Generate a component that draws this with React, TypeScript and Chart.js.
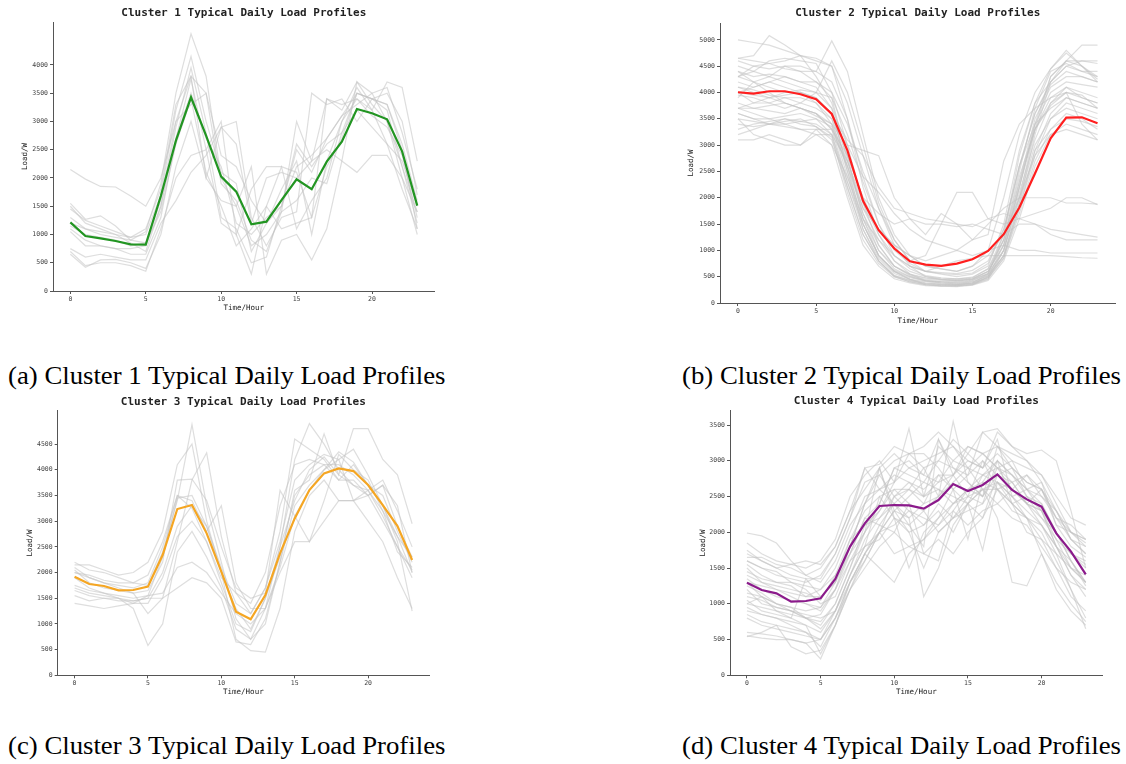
import React, { useEffect, useRef } from "react";
import { Chart, registerables } from "chart.js";

Chart.register(...registerables);

// ---------- DATA ----------
const hours = [0, 1, 2, 3, 4, 5, 6, 7, 8, 9, 10, 11, 12, 13, 14, 15, 16, 17, 18, 19, 20, 21, 22, 23];
const xTickValues = [0, 5, 10, 15, 20];

const cluster1Typical = [1215, 973, 932, 885, 826, 820, 1680, 2660, 3428, 2750, 2024, 1758, 1180, 1227, 1610, 1976, 1800, 2289, 2643, 3221, 3145, 3038, 2466, 1510];
const cluster1Members = [
  [2150, 1980, 1850, 1840, 1680, 1500, 2000, 3000, 3800, 3500, 2400, 2200, 1600, 1200, 1500, 2200, 2400, 2700, 3100, 3500, 3400, 3300, 2600, 1600],
  [1550, 1270, 1330, 1150, 900, 1050, 1900, 3500, 4550, 3800, 2000, 1500, 800, 1000, 1400, 3000, 2300, 3400, 3200, 3700, 3500, 3000, 2200, 1200],
  [1450, 1250, 1150, 1050, 950, 1000, 1700, 3200, 4150, 3000, 2100, 1900, 700, 1200, 1800, 2300, 1000, 2300, 3000, 3600, 3200, 2600, 1800, 1100],
  [1100, 900, 800, 750, 750, 800, 1500, 2900, 3950, 2800, 1300, 1100, 500, 600, 1500, 2600, 2200, 2600, 2800, 3500, 3400, 3500, 3000, 1700],
  [1050, 800, 800, 750, 650, 650, 1300, 2700, 3750, 2500, 1200, 1000, 300, 1500, 2200, 1100, 1600, 2000, 3000, 3400, 3200, 3700, 3600, 2300],
  [750, 600, 650, 600, 550, 550, 1200, 1600, 2100, 2400, 2900, 3000, 1300, 800, 1300, 1400, 3500, 3300, 3400, 3000, 3400, 3200, 2200, 1400],
  [700, 450, 500, 500, 450, 350, 1100, 2000, 2400, 2500, 3000, 1000, 1800, 2200, 2200, 2100, 1300, 2200, 2700, 3500, 3400, 3300, 2500, 1100],
  [650, 420, 550, 560, 500, 400, 1000, 2200, 3000, 2000, 1600, 1500, 2200, 300, 900, 1000, 550, 1100, 2300, 2100, 2400, 2400, 2000, 1000],
  [1200, 1100, 1000, 950, 900, 850, 1400, 2600, 3400, 2100, 1500, 800, 1100, 1500, 1100, 1200, 1300, 3400, 3300, 3400, 3100, 2900, 2400, 1300],
  [1500, 1200, 1100, 1000, 950, 1100, 1800, 3300, 3800, 2000, 2900, 2600, 1200, 2000, 2100, 2000, 2300, 2500, 2300, 3700, 3300, 3000, 2000, 1400],
  [1150, 1000, 950, 900, 800, 850, 1600, 3000, 3300, 3500, 1900, 1600, 900, 700, 1400, 1600, 2000, 1900, 2800, 3200, 2900, 2600, 2300, 1500],
  [1300, 1100, 1050, 1000, 850, 700, 1500, 2700, 3500, 2700, 2200, 1200, 1000, 1300, 1500, 2500, 2100, 2700, 3100, 3300, 3500, 3600, 2800, 1800],
];

const cluster2Typical = [4004, 3978, 4023, 4023, 3966, 3870, 3591, 2900, 1942, 1383, 1034, 793, 730, 704, 749, 831, 990, 1307, 1815, 2462, 3128, 3522, 3528, 3414];
const cluster2Members = [
  [5000, 4950, 4900, 4800, 4700, 4600, 4500, 3800, 2800, 1800, 1100, 700, 500, 450, 420, 450, 600, 1100, 2200, 3400, 4300, 4600, 4900, 4900],
  [4650, 4700, 5080, 4900, 4700, 4300, 3800, 2800, 1600, 900, 600, 450, 350, 320, 330, 350, 500, 1000, 2000, 3300, 4300, 4600, 4500, 4300],
  [4600, 4500, 4550, 4600, 4700, 4650, 4500, 3500, 2200, 1300, 800, 550, 420, 380, 360, 380, 550, 1300, 2800, 3800, 4450, 4800, 4500, 4250],
  [4400, 4200, 4300, 4500, 4400, 4200, 3900, 2700, 1700, 1000, 650, 500, 420, 400, 380, 400, 520, 900, 1900, 3200, 4200, 4500, 4600, 4600],
  [4300, 4400, 4600, 4650, 4600, 4550, 4000, 3000, 1900, 1100, 700, 520, 450, 430, 420, 450, 560, 1200, 2500, 3700, 4400, 4550, 4400, 4400],
  [4200, 4100, 4200, 4300, 4200, 4100, 3700, 2500, 1400, 800, 500, 400, 350, 330, 320, 350, 450, 1000, 2200, 3400, 4000, 4200, 4150, 4100],
  [4100, 4000, 3900, 3950, 4000, 3900, 3600, 2600, 1500, 900, 600, 450, 380, 360, 350, 380, 500, 1100, 2300, 3500, 4100, 4300, 4300, 4200],
  [4000, 3800, 3800, 3900, 3800, 3700, 3500, 2500, 1600, 1000, 700, 550, 480, 450, 430, 460, 600, 1200, 2400, 3300, 3900, 4100, 4000, 3900],
  [3900, 4200, 4000, 3800, 3700, 3600, 3400, 2400, 1500, 900, 600, 480, 420, 400, 390, 420, 550, 1000, 2100, 3100, 3800, 4000, 3900, 3800],
  [3800, 3700, 3750, 3800, 3700, 3600, 3300, 2300, 1400, 850, 560, 450, 400, 380, 370, 400, 520, 900, 1900, 2900, 3600, 3900, 3800, 3700],
  [3700, 3600, 3500, 3550, 3600, 3500, 3200, 2200, 1300, 800, 520, 420, 370, 350, 340, 370, 480, 850, 1800, 2800, 3500, 3800, 3700, 3600],
  [3600, 3500, 3500, 3400, 3450, 3400, 3200, 2300, 1500, 900, 620, 500, 430, 400, 400, 430, 560, 1000, 2000, 3000, 3500, 3700, 3600, 3500],
  [3500, 3450, 3400, 3450, 3500, 3350, 3150, 2100, 1200, 750, 500, 400, 350, 340, 330, 360, 460, 850, 1700, 2700, 3300, 3500, 3450, 3350],
  [3400, 3350, 3400, 3350, 3300, 3300, 3000, 2000, 1100, 700, 460, 380, 330, 320, 310, 340, 430, 800, 1600, 2600, 3200, 3400, 3300, 3200],
  [3300, 3400, 3450, 3500, 3400, 3350, 3100, 2200, 1300, 800, 520, 430, 370, 360, 350, 380, 480, 900, 1800, 2900, 3300, 3600, 3500, 3300],
  [3100, 3100, 3200, 3100, 3000, 3300, 3300, 2800, 2000, 1400, 1100, 900, 700, 650, 600, 700, 900, 1300, 2000, 2800, 3200, 3300, 3200, 3100],
  [3500, 3200, 3100, 3000, 3000, 3200, 3200, 2700, 1900, 1300, 900, 700, 600, 580, 560, 620, 800, 1400, 2600, 3400, 3700, 3900, 3800, 3700],
  [4500, 4400, 4300, 4200, 4100, 4000, 3700, 3000, 2400, 2100, 1700, 1400, 1200, 1100, 1000, 1200, 1500, 1800, 2000, 2000, 2000, 1900, 1900, 1880],
  [4300, 4200, 4100, 4000, 4000, 3900, 3600, 3100, 2800, 2200, 1800, 1700, 1600, 1550, 1500, 1450, 1600, 1700, 1600, 1500, 1400, 1350, 1300, 1250],
  [4000, 4100, 4200, 4100, 4000, 3800, 3500, 2800, 2000, 1700, 1500, 1600, 1500, 1500, 1450, 1500, 1400, 1300, 1500, 1500, 1300, 1200, 1200, 1200],
  [3700, 3800, 3900, 3800, 3700, 3600, 3300, 2600, 1800, 1400, 1100, 900, 800, 900, 1000, 900, 1000, 1100, 1000, 1000, 950, 950, 950, 950],
  [3600, 3500, 3400, 3400, 3300, 3200, 3000, 2400, 1600, 1200, 900, 700, 600, 700, 800, 850, 900, 900, 900, 900, 900, 880, 860, 850],
  [4400, 4300, 4350, 4300, 4200, 4200, 4000, 3400, 2500, 1800, 1200, 800, 900, 1500, 2100, 2100, 1600, 1500, 1600, 1700, 1800, 2000, 2000, 1870],
  [4100, 4050, 3950, 3900, 3900, 3800, 3400, 3000, 2900, 2800, 2000, 1600, 1300, 1700, 1500, 1200, 1300, 2700, 3400, 3700, 3900, 4000, 3400, 3100],
  [3950, 3900, 3800, 3700, 3800, 4000, 4600, 4000, 3000, 1900, 1200, 800, 600, 550, 500, 550, 700, 1500, 2900, 3800, 4200, 4500, 4400, 4300],
  [4650, 4600, 4550, 4450, 4400, 4400, 4980, 4400, 3200, 2000, 1300, 900, 700, 650, 600, 700, 1000, 2000, 3200, 4000, 4450, 4750, 4500, 4200],
  [4300, 4500, 4450, 4500, 4500, 4400, 4200, 3500, 2400, 1500, 900, 650, 520, 480, 460, 480, 650, 1300, 2600, 3600, 4200, 4600, 4600, 4550],
  [3200, 3300, 3400, 3500, 3450, 3500, 3350, 2600, 1700, 1100, 700, 540, 470, 450, 440, 470, 600, 1100, 2200, 3300, 3800, 4100, 3900, 3800],
  [3700, 3700, 3650, 3600, 3700, 3550, 3400, 2700, 1800, 1200, 800, 600, 500, 470, 460, 490, 650, 1200, 2300, 3300, 3750, 4000, 3950, 3700],
  [4000, 3950, 3900, 4000, 4050, 4000, 3900, 3200, 2300, 1500, 1000, 750, 600, 560, 540, 570, 750, 1400, 2600, 3600, 4150, 4400, 4300, 4200],
];

const cluster3Typical = [1920, 1777, 1738, 1654, 1660, 1725, 2341, 3236, 3314, 2763, 2017, 1239, 1089, 1563, 2374, 3054, 3606, 3930, 4027, 3975, 3703, 3314, 2905, 2244];
const cluster3Members = [
  [2200, 2050, 2000, 1900, 1800, 1750, 2400, 3400, 4880, 3300, 2200, 1100, 700, 1300, 2100, 3100, 3600, 4000, 4200, 4400, 3900, 3300, 2700, 2000],
  [2150, 2150, 2050, 1950, 2000, 2200, 2800, 4100, 4500, 3000, 2000, 1300, 900, 1500, 2500, 4200, 4900, 4500, 4000, 3700, 3500, 3700, 2900, 2300],
  [2100, 1900, 1800, 1700, 1600, 1200, 1500, 2600, 3800, 4330, 2700, 1600, 1200, 1700, 2800, 4600, 4400, 4200, 3800, 4100, 3700, 3500, 2800, 2200],
  [2050, 1800, 1700, 1650, 1600, 1650, 2200, 3800, 3820, 3400, 2500, 1700, 1500, 1600, 3600, 3100, 2600, 3400, 4300, 4000, 3800, 3200, 2400, 2100],
  [2000, 1950, 1850, 1800, 1800, 1950, 2600, 3500, 3400, 2800, 3300, 1800, 1300, 1300, 2500, 3400, 4000, 4250, 3900, 3700, 3600, 3800, 3200, 2500],
  [1900, 1700, 1600, 1550, 1500, 1550, 2300, 3450, 3500, 2900, 2000, 700, 480, 450, 1300, 2800, 3500, 3800, 3400, 3400, 3500, 3700, 3300, 2000],
  [1750, 1650, 1600, 1500, 1300, 580, 1000, 2400, 2800, 2300, 1700, 900, 700, 1000, 2200, 3600, 3800, 4700, 3900, 4800, 4800, 4200, 3900, 2950],
  [1700, 1600, 1550, 1500, 1400, 1400, 1900, 2700, 3000, 2600, 1800, 1000, 850, 1500, 2300, 3500, 3900, 4100, 4100, 3900, 3600, 3100, 2500, 1900],
  [1550, 1450, 1500, 1500, 1450, 1500, 2000, 2900, 3300, 2900, 2100, 1400, 1200, 1700, 2600, 3800, 4100, 4300, 4200, 3400, 3000, 2600, 1900, 1300],
  [1400, 1350, 1300, 1350, 1400, 1550, 1600, 2100, 2200, 2000, 1600, 1200, 1000, 1300, 2000, 2600, 2600, 3000, 3400, 3400, 3600, 3200, 2700, 2300],
  [1650, 1550, 1500, 1450, 1450, 1500, 1500, 1700, 1900, 1800, 1500, 650, 600, 1100, 2200, 3300, 3700, 4000, 4350, 4150, 3700, 3300, 2600, 1250],
  [2000, 1900, 1800, 1750, 1700, 1800, 2500, 3500, 3250, 2600, 1900, 1600, 1400, 2000, 3300, 4100, 4200, 4100, 3800, 3800, 3500, 3000, 2500, 2050],
];

const cluster4Typical = [1295, 1193, 1146, 1030, 1039, 1076, 1347, 1799, 2125, 2367, 2381, 2377, 2330, 2451, 2675, 2577, 2661, 2810, 2591, 2460, 2358, 1985, 1729, 1412];
const cluster4Members = [
  [1990, 1950, 1850, 1600, 1400, 1500, 1800, 2300, 2900, 2950, 3200, 3100, 2900, 3000, 3300, 3100, 3400, 3450, 3200, 3100, 3150, 3000, 2300, 1500],
  [1850, 1700, 1600, 1550, 1500, 1600, 1900, 2500, 2800, 3000, 2700, 3450, 2500, 2700, 3000, 2900, 3100, 3200, 3000, 2900, 2800, 2500, 2200, 2100],
  [1750, 1600, 1500, 1400, 1350, 1350, 1700, 2200, 2900, 2600, 2400, 2100, 1800, 3300, 2800, 3000, 2900, 3300, 2500, 2600, 2700, 2100, 2000, 1900],
  [1650, 1650, 1550, 1500, 1400, 1300, 1600, 2100, 2400, 2800, 2500, 2600, 2900, 2500, 3550, 2700, 2500, 2800, 2700, 2400, 2600, 2200, 1900, 1800],
  [1600, 1500, 1450, 1300, 1250, 1200, 1400, 1700, 2000, 2900, 2300, 2000, 1500, 2000, 2200, 2500, 2400, 3000, 2400, 2500, 2200, 2000, 1700, 1600],
  [1550, 1400, 1300, 1250, 1100, 1100, 1300, 1900, 2300, 2500, 2600, 2400, 2300, 2500, 2700, 2900, 2800, 2900, 2600, 2400, 2300, 1900, 1500, 1300],
  [1500, 1300, 1200, 1100, 1000, 900, 1200, 1700, 2200, 2400, 2900, 3000, 2800, 3300, 2900, 2800, 3400, 3200, 2900, 2700, 2600, 2100, 1800, 1650],
  [1450, 1350, 1300, 1300, 1200, 1000, 1100, 1600, 2000, 2300, 2700, 3100, 3200, 3400, 3200, 2900, 2600, 2200, 1300, 1250, 1700, 1200, 900, 700],
  [1400, 1300, 1250, 1200, 1150, 1050, 1400, 1900, 2100, 2200, 2400, 2200, 2400, 2800, 2600, 2400, 2200, 2800, 2900, 2700, 2600, 2200, 2100, 1900],
  [1350, 1200, 1100, 1050, 1000, 950, 1200, 1600, 1800, 2000, 1700, 1800, 1900, 2200, 2400, 2600, 2800, 2700, 2500, 2300, 2100, 1700, 1200, 800],
  [1300, 1100, 1000, 900, 800, 700, 1000, 1500, 2000, 2400, 2900, 2800, 2700, 2600, 2400, 2500, 2600, 2600, 2300, 2200, 2000, 1600, 1200, 650],
  [1250, 1150, 1000, 950, 800, 650, 900, 1300, 1700, 2000, 2100, 2300, 2200, 2100, 2300, 2600, 2700, 3000, 2800, 2500, 2300, 1800, 1500, 1300],
  [1200, 1000, 950, 900, 850, 800, 900, 1400, 1800, 2500, 2200, 1500, 2000, 2200, 2600, 1900, 2700, 2600, 2400, 2000, 1900, 1700, 1500, 1400],
  [1150, 1100, 1000, 950, 900, 950, 1300, 1700, 2200, 2100, 2000, 2400, 1700, 1600, 2300, 2100, 2300, 2400, 2600, 2800, 2500, 2300, 1900, 1700],
  [1100, 1050, 950, 900, 800, 850, 1200, 1800, 2400, 2600, 2800, 2700, 2500, 3200, 3000, 3200, 3100, 2900, 2700, 2400, 2200, 1900, 1700, 1550],
  [1050, 900, 850, 800, 700, 600, 900, 1400, 1900, 2200, 2500, 2300, 2100, 2300, 2000, 2400, 1750, 2700, 2500, 2200, 2100, 1800, 1600, 1250],
  [1000, 950, 900, 850, 800, 750, 1000, 1500, 2100, 2300, 2600, 2600, 2400, 2500, 2800, 3100, 2900, 3100, 2900, 2500, 2400, 2000, 1600, 1300],
  [950, 850, 800, 700, 600, 500, 800, 1300, 1600, 2000, 2500, 2700, 2600, 2800, 2800, 2500, 3000, 2800, 2600, 2400, 2100, 1800, 1400, 1200],
  [900, 850, 800, 750, 700, 300, 700, 1200, 1700, 1500, 1300, 1700, 1900, 2100, 2400, 2600, 2500, 3200, 3100, 3000, 2700, 2300, 1900, 1700],
  [850, 750, 700, 650, 600, 400, 800, 1200, 1500, 1800, 2000, 1800, 1700, 1900, 1700, 2000, 2200, 2600, 2400, 2200, 1700, 1300, 1000, 750],
  [800, 700, 650, 600, 550, 500, 900, 1400, 1800, 1900, 2200, 2100, 2300, 2000, 2200, 2400, 2600, 2400, 2200, 2100, 1800, 1500, 1300, 1200],
  [600, 580, 550, 500, 450, 230, 700, 1300, 1700, 2000, 2300, 2500, 2700, 3000, 2900, 2700, 2500, 2900, 3000, 2600, 2400, 2000, 1600, 1300],
  [550, 520, 500, 500, 450, 500, 800, 1300, 1700, 2100, 2400, 2600, 2500, 2600, 2500, 2400, 2800, 3000, 2800, 2600, 2300, 1800, 1400, 1100],
  [540, 600, 700, 400, 300, 350, 700, 1200, 1600, 2000, 2300, 2200, 1100, 1500, 2100, 2400, 2600, 2700, 2400, 2200, 1900, 1500, 1100, 900],
  [1000, 1100, 900, 800, 1350, 1100, 1300, 1800, 2400, 2900, 2200, 2000, 2100, 2400, 2200, 2300, 2400, 2700, 2600, 2400, 2300, 2000, 1700, 1500],
  [1300, 1250, 1200, 1150, 1100, 1200, 1500, 2000, 2500, 2600, 2700, 2900, 3000, 3100, 3200, 3000, 2900, 3400, 3200, 3000, 2800, 2400, 2000, 1900],
  [1600, 1500, 1400, 1350, 1300, 1400, 1700, 2200, 2700, 2800, 3000, 3100, 3100, 2900, 2600, 2800, 3000, 2600, 2700, 2800, 2600, 2300, 2000, 1800],
  [1700, 1600, 1500, 1550, 1600, 1550, 1800, 2300, 2600, 2900, 3100, 2900, 2800, 2700, 2800, 3200, 3100, 2900, 2800, 2600, 2500, 2200, 2000, 1850],
];

const titles = [
  "Cluster 1 Typical Daily Load Profiles",
  "Cluster 2 Typical Daily Load Profiles",
  "Cluster 3 Typical Daily Load Profiles",
  "Cluster 4 Typical Daily Load Profiles",
];
const captions = [
  "(a) Cluster 1 Typical Daily Load Profiles",
  "(b) Cluster 2 Typical Daily Load Profiles",
  "(c) Cluster 3 Typical Daily Load Profiles",
  "(d) Cluster 4 Typical Daily Load Profiles",
];
const yTicks1 = [0, 500, 1000, 1500, 2000, 2500, 3000, 3500, 4000];
const yTicks2 = [0, 500, 1000, 1500, 2000, 2500, 3000, 3500, 4000, 4500, 5000];
const yTicks3 = [0, 500, 1000, 1500, 2000, 2500, 3000, 3500, 4000, 4500];
const yTicks4 = [0, 500, 1000, 1500, 2000, 2500, 3000, 3500];

// ---------- LAYOUT ----------
type Panel = {
  typical: number[];
  members: number[][];
  color: string;
  title: string;
  yTicks: number[];
  yMax: number;
  left: number;
  top: number;
  w: number;
  h: number;
  yw: number;
  plotRight: number;
  titleY: number;
  plotTop: number;
  plotBottom: number;
  xTitleY: number;
  yTitleX: number;
};

const panels: Panel[] = [
  { typical: cluster1Typical, members: cluster1Members, color: "#229522", title: titles[0], yTicks: yTicks1, yMax: 4760,
    left: 0, top: 0, w: 450, h: 320, yw: 53, plotRight: 434.6, titleY: 13, plotTop: 22, plotBottom: 291, xTitleY: 308, yTitleX: 25 },
  { typical: cluster2Typical, members: cluster2Members, color: "#ff1f1f", title: titles[1], yTicks: yTicks2, yMax: 5320,
    left: 670, top: 0, w: 456, h: 330, yw: 50, plotRight: 445.5, titleY: 12.7, plotTop: 23, plotBottom: 303, xTitleY: 320.7, yTitleX: 20.7 },
  { typical: cluster3Typical, members: cluster3Members, color: "#f5a623", title: titles[2], yTicks: yTicks3, yMax: 5150,
    left: 0, top: 390, w: 450, h: 320, yw: 57.7, plotRight: 429, titleY: 11.7, plotTop: 20.7, plotBottom: 285.3, xTitleY: 302.3, yTitleX: 30 },
  { typical: cluster4Typical, members: cluster4Members, color: "#8b1a8b", title: titles[3], yTicks: yTicks4, yMax: 3700,
    left: 670, top: 390, w: 456, h: 320, yw: 60, plotRight: 432.7, titleY: 11.3, plotTop: 20.7, plotBottom: 285.3, xTitleY: 302.3, yTitleX: 33.3 },
];

const MONO = "'DejaVu Sans Mono', monospace";

function PanelChart({ p }: { p: Panel }) {
  const ref = useRef<HTMLCanvasElement | null>(null);
  useEffect(() => {
    if (!ref.current) return;
    const titleSize = 11;
    const titleLH = titleSize * 1.2;
    const axSize = 7.5;
    const axLH = axSize * 1.2;
    const toPts = (arr: number[]) => arr.map((v, i) => ({ x: hours[i], y: v }));
    const datasets: any[] = [
      { data: toPts(p.typical), borderColor: p.color, borderWidth: 2.2, pointRadius: 0, tension: 0 },
      ...p.members.map((m) => ({ data: toPts(m), borderColor: "rgba(195,195,195,0.55)", borderWidth: 1.2, pointRadius: 0, tension: 0 })),
    ];
    const plain = (v: any) => String(v);
    const chart = new Chart(ref.current, {
      type: "line",
      data: { datasets },
      options: {
        animation: false,
        responsive: false,
        events: [],
        layout: { padding: { left: 0, right: p.w - p.plotRight, top: 0, bottom: 0 } },
        plugins: {
          legend: { display: false },
          tooltip: { enabled: false },
          title: {
            display: true,
            text: p.title,
            fullSize: false,
            color: "#222",
            font: { family: MONO, size: titleSize, weight: "bold" },
            padding: { top: p.titleY - titleLH / 2, bottom: p.plotTop - p.titleY - titleLH / 2 },
          },
        },
        scales: {
          x: {
            type: "linear",
            min: -1.15,
            max: 24.15,
            afterBuildTicks: (s: any) => { s.ticks = xTickValues.map((v) => ({ value: v })); },
            afterFit: (s: any) => { s.height = p.h - p.plotBottom; },
            ticks: { color: "#444", font: { family: MONO, size: 6.5 }, padding: 1, maxRotation: 0, autoSkip: false, callback: plain },
            grid: { display: true, drawOnChartArea: false, drawTicks: true, tickLength: 3, color: "#555" },
            border: { display: true, color: "#555", width: 1 },
            title: {
              display: true,
              text: "Time/Hour",
              color: "#222",
              font: { family: MONO, size: axSize },
              padding: { top: 0, bottom: p.h - p.xTitleY - axLH / 2 },
            },
          },
          y: {
            type: "linear",
            min: 0,
            max: p.yMax,
            afterBuildTicks: (s: any) => { s.ticks = p.yTicks.map((v) => ({ value: v })); },
            afterFit: (s: any) => { s.width = p.yw; },
            ticks: { color: "#444", font: { family: MONO, size: 6.5 }, padding: 2, autoSkip: false, callback: plain },
            grid: { display: true, drawOnChartArea: false, drawTicks: true, tickLength: 3, color: "#555" },
            border: { display: true, color: "#555", width: 1 },
            title: {
              display: true,
              text: "Load/W",
              color: "#222",
              font: { family: MONO, size: axSize },
              padding: { top: p.yTitleX - axLH / 2, bottom: 0 },
            },
          },
        },
      } as any,
    });
    return () => chart.destroy();
  }, [p]);
  return (
    <canvas
      ref={ref}
      width={p.w}
      height={p.h}
      style={{ position: "absolute", left: p.left, top: p.top, width: p.w, height: p.h }}
    />
  );
}

const captionPos = [
  { left: 8, top: 363 },
  { left: 682, top: 363 },
  { left: 8, top: 733 },
  { left: 682, top: 733 },
];

export default function App() {
  return (
    <div style={{ position: "absolute", left: 0, top: 0, width: 1126, height: 764, background: "#fff", overflow: "hidden" }}>
      {panels.map((p, i) => (
        <PanelChart key={i} p={p} />
      ))}
      {captions.map((c, i) => (
        <div
          key={"c" + i}
          style={{
            position: "absolute",
            left: captionPos[i].left,
            top: captionPos[i].top,
            fontFamily: "'Liberation Serif', 'Times New Roman', serif",
            fontSize: 25,
            lineHeight: "25px",
            color: "#000",
            whiteSpace: "nowrap",
            transform: "scaleX(1.07)",
            transformOrigin: "0 0",
          }}
        >
          {c}
        </div>
      ))}
    </div>
  );
}
